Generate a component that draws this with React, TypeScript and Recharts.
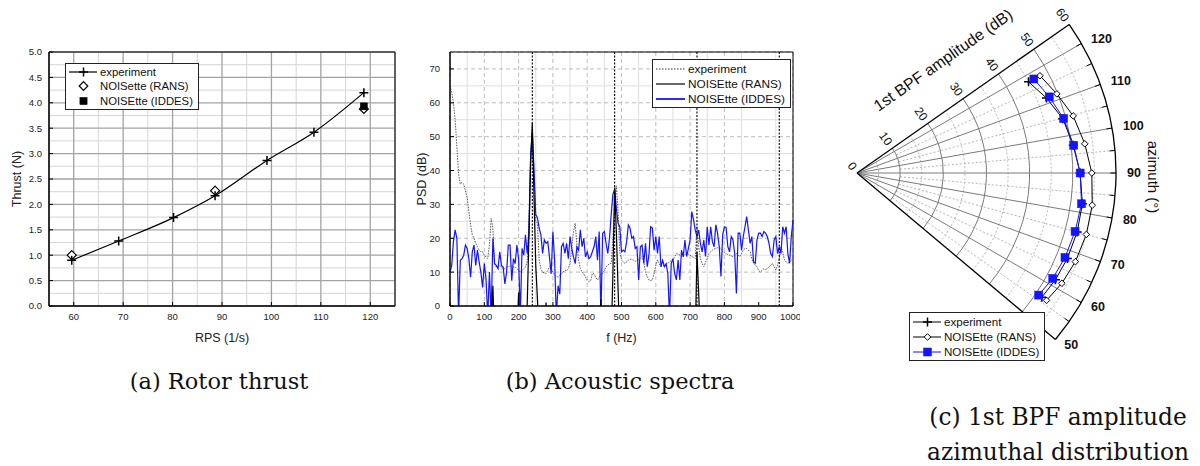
import React from 'react';
import {
  ComposedChart, LineChart, Line, Scatter, XAxis, YAxis, CartesianGrid,
  ReferenceLine, ReferenceArea, Legend, RadarChart, Radar,
  PolarAngleAxis, PolarRadiusAxis, Customized,
} from 'recharts';

const SANS = '"Liberation Sans", Arial, sans-serif';
const SERIF = '"DejaVu Serif", serif';
const BLUE = '#1414ff';
const _ = null;

// ---------- (a) rotor thrust
const expRps = [59.6, 69.1, 80.2, 88.6, 99.1, 108.6, 118.7];
const expThrust = [0.9, 1.28, 1.74, 2.17, 2.865, 3.42, 4.2];
const ransRps = [59.6, 88.6, 118.7];
const ransThrust = [1.0, 2.27, 3.88];
const iddesRps = [118.7];
const iddesThrust = [3.93];
const rpsTicks = [60, 70, 80, 90, 100, 110, 120];
const rpsMinor = [65, 75, 85, 95, 105, 115];
const thrustTicks = [0, 0.5, 1, 1.5, 2, 2.5, 3, 3.5, 4, 4.5, 5];
const thrustMinor = [0.25, 0.75, 1.25, 1.75, 2.25, 2.75, 3.25, 3.75, 4.25, 4.75];

// ---------- (b) acoustic spectra, 5 Hz bins from 0 to 1000 Hz
const psdExp = [
  65, 63, 60, 55, 47, 39, 36, 36.5, 36, 34,
  32, 28, 24, 21, 20, 18.5, 17.5, 16.5, 16, 16,
  15, 14.5, 14, 18, 25.8, 23, 12.5, 11.5, 11.6, 12,
  11.5, 11, 11, 11.5, 11.5, 12, 11.5, 11.5, 11.5, 11,
  10.5, 10, 10.5, 11, 11.5, 13, 25, 45, 51, 40,
  25, 24.4, 13.6, 11, 10, 9.8, 9.6, 10.5, 11.6, 11,
  10, 9, 8.7, 8.5, 9, 9.5, 10, 10.6, 10.5, 11,
  12.5, 17.5, 22, 24.4, 18, 13.6, 11, 10, 9.6, 8.5,
  7.7, 7.2, 7.5, 9.6, 9.5, 8.5, 7.7, 8.5, 9.5, 9.6,
  10.5, 11.6, 12, 12.6, 12.6, 20, 30, 35.5, 28, 16,
  13.6, 13, 12.6, 13, 13.5, 13.8, 13.8, 13.5, 13.2, 13.4,
  13.6, 14, 14.6, 13, 10, 8.7, 7.7, 7.5, 7.7, 9.6,
  12, 13.6, 12.5, 11.6, 11.8, 12, 12.4, 12.6, 13, 13.4,
  13.6, 14.5, 15.5, 15.3, 15, 14.6, 14.8, 15.2, 15.5, 15.3,
  15, 14.6, 14.4, 14, 23.4, 17.5, 14, 12.6, 11.6, 13,
  14, 15.5, 16, 16.5, 16.8, 17, 17.2, 17.5, 16.8, 16,
  15.8, 15.5, 15.2, 15, 14.8, 14.6, 15, 15.5, 15, 14.6,
  15.5, 16.5, 17, 17, 16.5, 16, 14, 12.6, 12, 11.6,
  10.5, 10, 10.5, 11, 10.8, 11, 11.6, 12, 12.6, 11.5,
  10.6, 12, 14, 17.5, 16, 13.6, 13, 12.6, 13, 13.6,
  13.5,
];
const psdRans = [
  _, _, _, _, _, _, _, _, _, _,
  _, _, _, _, _, _, _, _, _, _,
  _, _, _, _, -10, 6, -10, _, _, _,
  _, _, _, _, _, _, _, _, _, -10,
  4, -10, _, _, -10, 0, 20, 42, 54, 32,
  12, 2, -10, _, _, -10, 1, -10, _, _,
  _, _, _, _, _, _, _, _, _, _,
  _, _, _, _, _, _, _, _, _, _,
  _, _, _, _, _, _, _, -10, 2, -10,
  _, _, _, _, -10, 10, 35, 22, 5, -10,
  _, _, _, _, _, _, _, _, _, _,
  _, _, _, _, _, _, _, _, _, _,
  _, _, _, _, _, _, _, _, _, _,
  _, _, _, _, _, _, _, _, _, _,
  _, _, _, -10, 16, 4, -10, _, _, _,
  _, _, _, _, _, _, _, _, _, _,
  _, _, _, _, _, _, _, _, _, _,
  _, _, _, _, _, _, _, _, _, _,
  _, _, _, _, _, _, _, _, _, _,
  _, _, _, _, _, _, _, _, _, _,
  _,
];
const psdIddes = [
  10, 12, 19, 22.5, 20, -3, 13.5, 14, 15, 18,
  17, 14, 8.5, 16, 18, 12, 16.5, 13, 10, 5.5,
  12.5, 8, -3, 10, -3, 20, 12.5, 12, 11, 16,
  12, 11.5, 6.5, 10, 18, 18, 7.5, 14, 12.5, 18,
  14, -3, 17, 15, 21, 15.5, 21, 44, 51.5, 40,
  27, 26, 23, 21, 15.5, 19.5, 18.5, 19, 14.5, 9.5,
  22, 13.5, -3, 6, 3.5, 17.5, 18.5, 15.5, 18.5, 14,
  20.5, 17, 14.5, 12.5, 17.5, 16.5, 22.5, 17.5, 20, 14.5,
  16, 14, 14.5, 16, 17.5, 20.5, 13.5, 22, -3, 21.5,
  22, 18.5, 15.5, 20, 27, 33, 34.5, 29, 24.4, 23.4,
  16, 16.5, 16, 19, 23.9, 23, 20, 20.5, 17, 17.5,
  7.7, 17.5, 18, 12.6, 18.5, 11.6, 15, 23.4, 23, 16.5,
  20.5, 15.5, 20.5, 11.6, 13.5, 11.6, 12.5, 9.6, -3, 12.6,
  14, 9.6, 7.7, 13.6, 7.7, 16.5, 14.5, 19.5, 14.6, 17,
  19.5, 27.9, 25.4, 22.4, 20.5, 22.4, 18.5, 16, 19.5, 14.6,
  23.4, 18, 23.4, 19, 17.5, 24, 21.5, 17.5, 8.7, 21,
  23.4, 23.2, 17.5, 16, 20.5, 19.5, 15.5, 3.7, 21.5, 21.5,
  16.5, 20.5, 23.4, 26.4, 22.4, 18.5, 20.5, 13, 12.6, 19.5,
  21.5, 21.5, 20.5, 22, 21.5, 20.5, 18.5, 15.5, 14.6, 19.5,
  20.5, 15.5, 17.5, 15.5, 23.4, 21.5, 23.4, 15.5, 12.6, 20.5,
  25.4,
];
const fTicks = [0, 100, 200, 300, 400, 500, 600, 700, 800, 900, 1000];
const fMinor = [50, 150, 250, 350, 450, 550, 650, 750, 850, 950];
const psdTicks = [0, 10, 20, 30, 40, 50, 60, 70];
const psdMinor = [5, 15, 25, 35, 45, 55, 65];
const bpfHarmonics = [240, 480, 720, 960];

// ---------- (c) 1st BPF amplitude vs azimuth
const azimuth = [118, 111.6, 104.8, 97.3, 90, 82.2, 75, 67.9, 61.7, 56.1];
const bpfExp = [45.0, 47.2, 49.3, 50.5, 51.7, 52.7, 52.8, 52.6, 52.2, 51.6];
const bpfRans = [48.0, 49.8, 51.8, 53.2, 54.4, 55.0, 55.0, 54.6, 53.9, 52.9];
const bpfIddes = [46.4, 47.9, 49.5, 50.6, 51.7, 52.5, 52.3, 52.0, 51.5, 50.7];
const azTicks = [50, 60, 70, 80, 90, 100, 110, 120];
const dbTicks = [0, 10, 20, 30, 40, 50, 60];

const thrustExpRows = expRps.map((rps, i) => ({ rps, thrust: expThrust[i] }));
const thrustRansRows = ransRps.map((rps, i) => ({ rps, thrust: ransThrust[i] }));
const thrustIddesRows = iddesRps.map((rps, i) => ({ rps, thrust: iddesThrust[i] }));
const psdRows = psdIddes.map((v, i) => ({ f: i * 5, exp: psdExp[i], rans: psdRans[i], iddes: v }));
const polarRows = azimuth.map((az, i) => ({ az, exp: bpfExp[i], rans: bpfRans[i], iddes: bpfIddes[i] }));

const ok = (v: any) => typeof v === 'number' && isFinite(v);

function PlusMark({ cx, cy, s = 4.5, color = '#000' }: any) {
  if (!ok(cx) || !ok(cy)) return null;
  return <path d={`M${cx - s},${cy}H${cx + s}M${cx},${cy - s}V${cy + s}`} stroke={color} strokeWidth={1.5} fill="none" />;
}
function DiamondMark({ cx, cy, s = 4.5, sw = 1.2 }: any) {
  if (!ok(cx) || !ok(cy)) return null;
  return <path d={`M${cx},${cy - s}L${cx + s},${cy}L${cx},${cy + s}L${cx - s},${cy}Z`} stroke="#000" strokeWidth={sw} fill="#fff" />;
}
function SquareMark({ cx, cy, s = 3.5, color = '#000' }: any) {
  if (!ok(cx) || !ok(cy)) return null;
  return <rect x={cx - s} y={cy - s} width={2 * s} height={2 * s} fill={color} stroke={color} strokeWidth={0.5} />;
}
// radar outline drawn as an open curve through the points Recharts computed
function OpenCurve(props: any) {
  const pts = (props.points || []).filter((p: any) => ok(p.x) && ok(p.y));
  if (!pts.length) return null;
  const d = pts.map((p: any, i: number) => `${i ? 'L' : 'M'}${p.x},${p.y}`).join('');
  return <path d={d} fill="none" stroke={props.stroke} strokeWidth={props.strokeWidth} />;
}

function LegendBox({ items, fontSize, rowH, sampleW }: any) {
  return (
    <div style={{ border: '1px solid #222', background: '#fff', padding: '1px 5px 1px 2px', fontFamily: SANS, fontSize, color: '#111' }}>
      {items.map((it: any) => (
        <div key={it.label} style={{ display: 'flex', alignItems: 'center', height: rowH, whiteSpace: 'nowrap' }}>
          <svg width={sampleW} height={12} style={{ flex: 'none' }}>{it.sample(sampleW)}</svg>
          <span style={{ marginLeft: 3 }}>{it.label}</span>
        </div>
      ))}
    </div>
  );
}

const tickStyle = { fontSize: 9.5, fill: '#222', fontFamily: SANS };
const titleStyle = { fontSize: 12.5, fill: '#222', fontFamily: SANS };

function ThrustPanel() {
  const items = [
    { label: 'experiment', sample: (w: number) => <g><line x1={1} x2={w} y1={6} y2={6} stroke="#000" strokeWidth={1.2} /><PlusMark cx={w / 2 + 1} cy={6} /></g> },
    { label: 'NOISette (RANS)', sample: (w: number) => <DiamondMark cx={w / 2 + 1} cy={6} s={4.3} /> },
    { label: 'NOISEtte (IDDES)', sample: (w: number) => <SquareMark cx={w / 2 + 1} cy={6} s={3.6} /> },
  ];
  return (
    <ComposedChart width={400} height={350} margin={{ top: 52, right: 5, bottom: 0, left: 0 }}>
      {rpsMinor.map((v) => <ReferenceLine key={'mx' + v} x={v} stroke="#d6d6d6" zIndex={-100} />)}
      {thrustMinor.map((v) => <ReferenceLine key={'my' + v} y={v} stroke="#d6d6d6" zIndex={-100} />)}
      <CartesianGrid stroke="#a3a3a3" strokeWidth={1.3} />
      <XAxis type="number" dataKey="rps" domain={[55, 125]} ticks={rpsTicks} height={44}
        tickSize={-4} tickMargin={11} axisLine={{ stroke: '#000' }} tickLine={{ stroke: '#000' }} tick={tickStyle}
        label={{ value: 'RPS (1/s)', position: 'insideBottom', offset: 8, ...titleStyle }} />
      <YAxis type="number" domain={[0, 5]} ticks={thrustTicks} width={49} tickFormatter={(v) => v.toFixed(1)}
        tickSize={-4} tickMargin={11} axisLine={{ stroke: '#000' }} tickLine={{ stroke: '#000' }} tick={tickStyle}
        label={{ value: 'Thrust (N)', angle: -90, position: 'insideLeft', offset: 17, style: { textAnchor: 'middle' }, ...titleStyle }} />
      <ReferenceArea x1={55} x2={125} y1={0} y2={5} fill="none" stroke="#000" strokeWidth={1} />
      <Line data={thrustExpRows} dataKey="thrust" type="monotone" stroke="#000" strokeWidth={1.2}
        dot={(p: any) => <PlusMark key={'pe' + p.index} cx={p.cx} cy={p.cy} />} isAnimationActive={false} />
      <Scatter data={thrustRansRows} dataKey="thrust" shape={(p: any) => <DiamondMark cx={p.cx} cy={p.cy} />} isAnimationActive={false} />
      <Scatter data={thrustIddesRows} dataKey="thrust" shape={(p: any) => <SquareMark cx={p.cx} cy={p.cy} />} isAnimationActive={false} />
      <Legend layout="horizontal" verticalAlign="middle" align="center"
        wrapperStyle={{ left: 65, top: 63, width: 'auto' }}
        content={() => <LegendBox items={items} fontSize={11.3} rowH={14.3} sampleW={29} />} />
    </ComposedChart>
  );
}

function SpectraPanel() {
  const items = [
    { label: 'experiment', sample: (w: number) => <line x1={1} x2={w} y1={6} y2={6} stroke="#333" strokeWidth={1} strokeDasharray="1.5 1.5" /> },
    { label: 'NOISEtte (RANS)', sample: (w: number) => <line x1={1} x2={w} y1={6} y2={6} stroke="#000" strokeWidth={1.2} /> },
    { label: 'NOISEtte (IDDES)', sample: (w: number) => <line x1={1} x2={w} y1={6} y2={6} stroke={BLUE} strokeWidth={1.8} /> },
  ];
  return (
    <LineChart width={400} height={350} data={psdRows} margin={{ top: 52, right: 7, bottom: 0, left: 0 }}>
      {fMinor.map((v) => <ReferenceLine key={'fx' + v} x={v} stroke="#dedede" zIndex={-100} />)}
      {psdMinor.map((v) => <ReferenceLine key={'fy' + v} y={v} stroke="#dedede" zIndex={-100} />)}
      <CartesianGrid stroke="#bdbdbd" strokeDasharray="4 3" />
      <XAxis type="number" dataKey="f" domain={[0, 1000]} ticks={fTicks} height={44}
        tickSize={-4} tickMargin={11} axisLine={{ stroke: '#000' }} tickLine={{ stroke: '#000' }} tick={tickStyle}
        label={{ value: 'f (Hz)', position: 'insideBottom', offset: 8, ...titleStyle }} />
      <YAxis type="number" domain={[0, 75]} ticks={psdTicks} width={50} allowDataOverflow
        tickSize={-4} tickMargin={14} axisLine={{ stroke: '#000' }} tickLine={{ stroke: '#000' }} tick={tickStyle}
        label={{ value: 'PSD (dB)', angle: -90, position: 'insideLeft', offset: 22, style: { textAnchor: 'middle' }, ...titleStyle }} />
      <ReferenceArea x1={0} x2={1000} y1={0} y2={75} fill="none" stroke="#000" strokeWidth={1} />
      <Line dataKey="exp" type="linear" stroke="#444" strokeWidth={0.9} strokeDasharray="1.5 1.2" dot={false} isAnimationActive={false} />
      <Line dataKey="iddes" type="linear" stroke={BLUE} strokeWidth={1.2} dot={false} isAnimationActive={false} />
      <Line dataKey="rans" type="linear" stroke="#000" strokeWidth={1.2} dot={false} isAnimationActive={false} />
      {bpfHarmonics.map((v) => <ReferenceLine key={'h' + v} x={v} stroke="#000" strokeWidth={1.1} strokeDasharray="2 1.5" />)}
      <Legend layout="horizontal" verticalAlign="middle" align="center"
        wrapperStyle={{ left: 252, top: 59, width: 'auto' }}
        content={() => <LegendBox items={items} fontSize={11.8} rowH={15} sampleW={30} />} />
    </LineChart>
  );
}

// polar geometry of panel (c)
const PCX = 37;
const PCY = 173;
const PR = 259;
const AZ_MIN = 50;
const AZ_MAX = 125;
const DB_MAX = 60;

function pt(db: number, az: number) {
  const r = (db / DB_MAX) * PR;
  const a = ((az - 90) * Math.PI) / 180;
  return [PCX + r * Math.cos(a), PCY - r * Math.sin(a)];
}
function arcPath(db: number) {
  const r = (db / DB_MAX) * PR;
  const [x1, y1] = pt(db, AZ_MIN);
  const [x2, y2] = pt(db, AZ_MAX);
  return `M${x1},${y1}A${r},${r} 0 0 0 ${x2},${y2}`;
}
function ray(az: number, from: number, to: number) {
  const [x1, y1] = pt(from, az);
  const [x2, y2] = pt(to, az);
  return `M${x1},${y1}L${x2},${y2}`;
}

function PolarFrame() {
  const major = [10, 20, 30, 40, 50];
  const minor = [5, 15, 25, 35, 45, 55];
  const raysMajor = [60, 70, 80, 90, 100, 110, 120];
  const raysMinor = [55, 65, 75, 85, 95, 105, 115];
  const outerTicks = [55, 60, 65, 70, 75, 80, 85, 90, 95, 100, 105, 110, 115, 120];
  return (
    <g>
      {minor.map((d) => <path key={'am' + d} d={arcPath(d)} fill="none" stroke="#b5b5b5" strokeDasharray="2 2" />)}
      {raysMinor.map((a) => <path key={'rm' + a} d={ray(a, 10, DB_MAX)} stroke="#b5b5b5" strokeDasharray="2 2" />)}
      {major.map((d) => <path key={'aM' + d} d={arcPath(d)} fill="none" stroke="#7a7a7a" strokeWidth={1} />)}
      {raysMajor.map((a) => <path key={'rM' + a} d={ray(a, 0, DB_MAX)} stroke="#7a7a7a" strokeWidth={1} />)}
      {outerTicks.map((a) => <path key={'t' + a} d={ray(a, DB_MAX - 1.3, DB_MAX)} stroke="#000" strokeWidth={1} />)}
      <path d={arcPath(DB_MAX)} fill="none" stroke="#000" strokeWidth={1.3} />
      <path d={ray(AZ_MIN, 0, DB_MAX)} stroke="#000" strokeWidth={1.3} />
      <path d={ray(AZ_MAX, 0, DB_MAX)} stroke="#000" strokeWidth={1.3} />
      <text x={123} y={60} transform="rotate(-35, 123, 60)" textAnchor="middle" dominantBaseline="central"
        fontFamily={SANS} fontSize={16} fill="#111">1st BPF amplitude (dB)</text>
      <text x={333} y={177} transform="rotate(90, 333, 177)" textAnchor="middle" dominantBaseline="central"
        fontFamily={SANS} fontSize={15} fill="#111">azimuth (°)</text>
    </g>
  );
}

function AzTick({ x, y, payload }: any) {
  return (
    <text x={x} y={y} dx={2} textAnchor="start" dominantBaseline="central" fontFamily={SANS}
      fontSize={12.5} fontWeight="bold" fill="#111">{payload.value}</text>
  );
}
function DbTick({ x, y, payload }: any) {
  return (
    <text x={x} y={y} dx={-5} transform={`rotate(55, ${x}, ${y})`} textAnchor="end" dominantBaseline="central"
      fontFamily={SANS} fontSize={12} fill="#111">{payload.value}</text>
  );
}

function PolarPanel() {
  const items = [
    { label: 'experiment', sample: (w: number) => <g><line x1={1} x2={w} y1={6} y2={6} stroke="#000" strokeWidth={1} /><PlusMark cx={w / 2 + 1} cy={6} s={4.5} /></g> },
    { label: 'NOISEtte (RANS)', sample: (w: number) => <g><line x1={1} x2={w} y1={6} y2={6} stroke="#000" strokeWidth={1} /><DiamondMark cx={w / 2 + 1} cy={6} s={3.3} sw={1} /></g> },
    { label: 'NOISEtte (IDDES)', sample: (w: number) => <g><line x1={1} x2={w} y1={6} y2={6} stroke={BLUE} strokeWidth={1} /><SquareMark cx={w / 2 + 1} cy={6} s={4} color={BLUE} /></g> },
  ];
  return (
    <RadarChart width={380} height={380} data={polarRows} cx={PCX} cy={PCY} innerRadius={0} outerRadius={PR}
      startAngle={-40} endAngle={35} margin={{ top: 0, right: 0, bottom: 0, left: 0 }}>
      <Customized component={PolarFrame} />
      <PolarAngleAxis dataKey="az" type="number" domain={[AZ_MIN, AZ_MAX]} ticks={azTicks as any} tickCount={8}
        axisLine={false} tickLine={false} tickSize={9} tick={AzTick} />
      <PolarRadiusAxis angle={35} type="number" domain={[0, DB_MAX]} ticks={dbTicks as any} tickCount={7}
        axisLine={false} tick={DbTick} />
      <Radar dataKey="rans" stroke="#000" strokeWidth={1} fill="none" fillOpacity={0} shape={OpenCurve}
        dot={(p: any) => <DiamondMark key={'dr' + p.index} cx={p.cx} cy={p.cy} s={3.3} sw={1} />} isAnimationActive={false} />
      <Radar dataKey="exp" stroke="#000" strokeWidth={1} fill="none" fillOpacity={0} shape={OpenCurve}
        dot={(p: any) => <PlusMark key={'de' + p.index} cx={p.cx} cy={p.cy} s={4.5} />} isAnimationActive={false} />
      <Radar dataKey="iddes" stroke={BLUE} strokeWidth={1} fill="none" fillOpacity={0} shape={OpenCurve}
        dot={(p: any) => <SquareMark key={'di' + p.index} cx={p.cx} cy={p.cy} s={4} color={BLUE} />} isAnimationActive={false} />
      <Legend layout="horizontal" verticalAlign="middle" align="center"
        wrapperStyle={{ left: 89, top: 312, width: 'auto' }}
        content={() => <LegendBox items={items} fontSize={11.6} rowH={15} sampleW={29} />} />
    </RadarChart>
  );
}

const captionStyle: React.CSSProperties = {
  position: 'absolute', fontFamily: SERIF, fontSize: 22.5, lineHeight: '30px',
  textAlign: 'center', color: '#111', whiteSpace: 'nowrap',
};

export default function App() {
  return (
    <div style={{ position: 'absolute', left: 0, top: 0, width: 1200, height: 466, background: '#fff', overflow: 'hidden' }}>
      <div style={{ position: 'absolute', left: 0, top: 0 }}><ThrustPanel /></div>
      <div style={{ position: 'absolute', left: 400, top: 0 }}><SpectraPanel /></div>
      <div style={{ position: 'absolute', left: 820, top: 0 }}><PolarPanel /></div>
      <div style={{ ...captionStyle, left: 19, top: 366, width: 400 }}>(a) Rotor thrust</div>
      <div style={{ ...captionStyle, left: 420, top: 366, width: 400 }}>(b) Acoustic spectra</div>
      <div style={{ ...captionStyle, left: 908, top: 402, width: 300, fontSize: 23.3 }}>(c) 1st BPF amplitude</div>
      <div style={{ ...captionStyle, left: 908, top: 437, width: 300, fontSize: 23.3 }}>azimuthal distribution</div>
    </div>
  );
}
